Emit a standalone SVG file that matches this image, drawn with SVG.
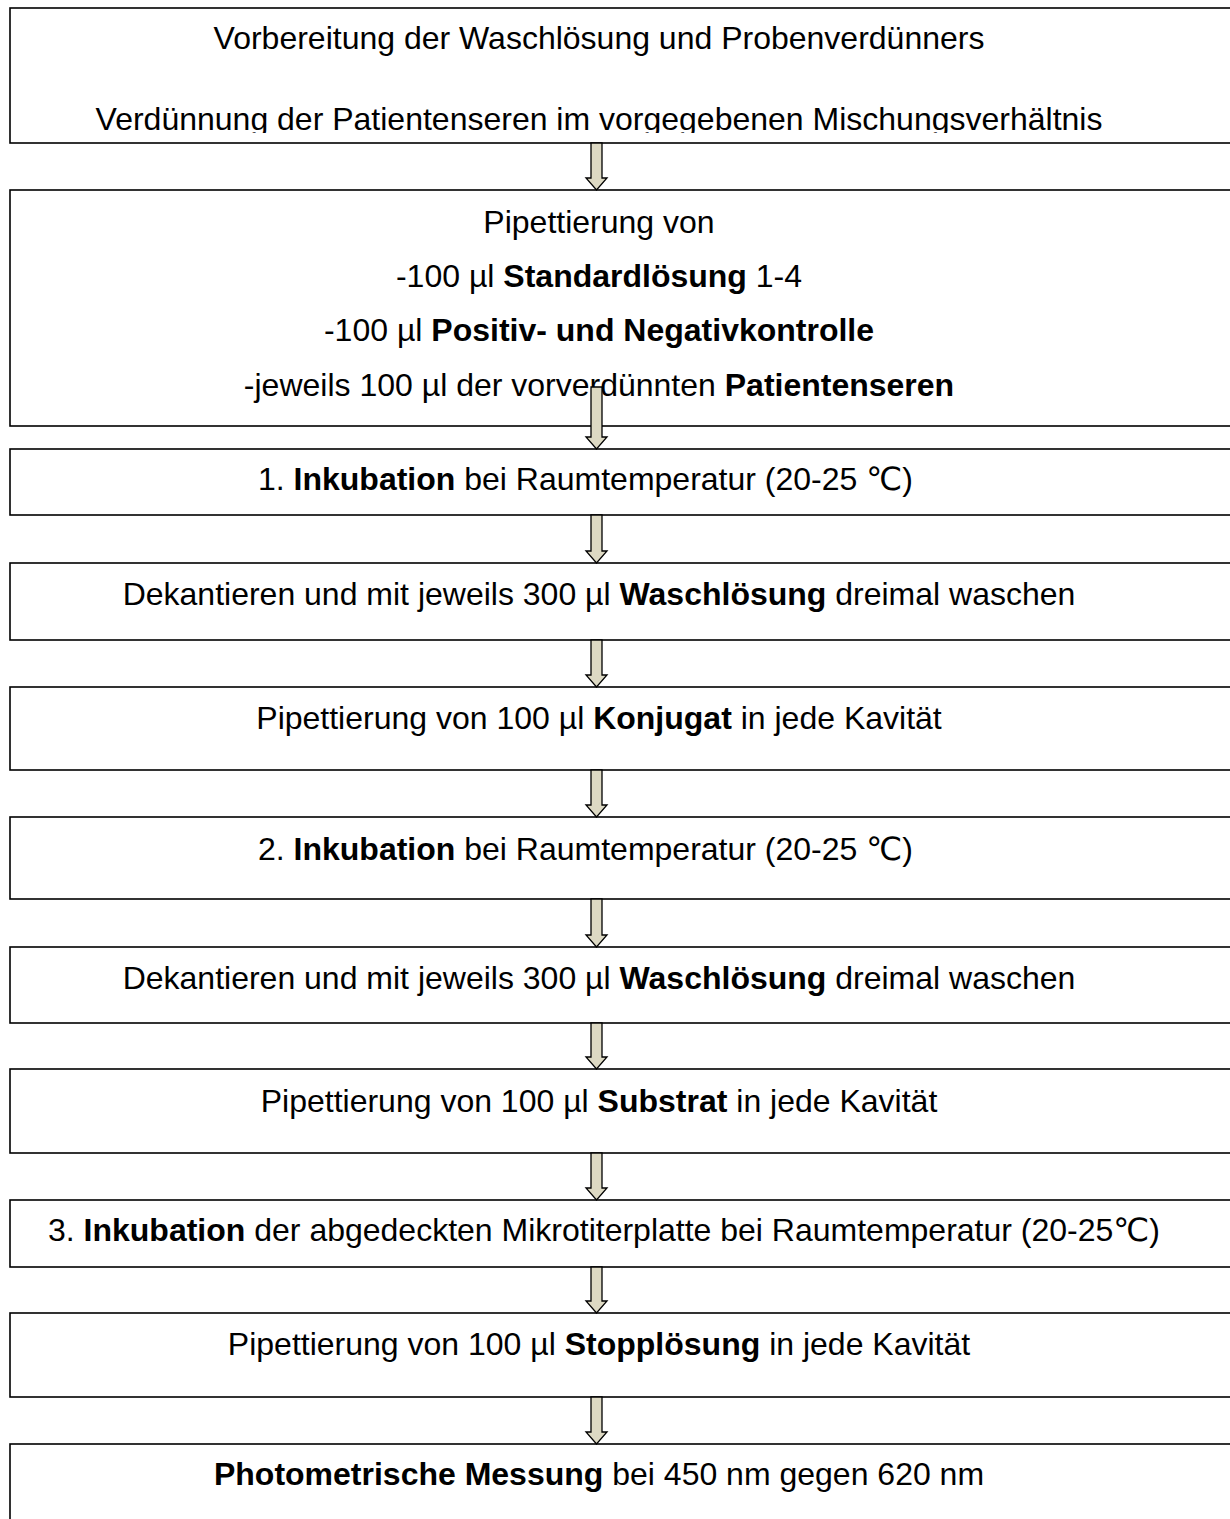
<svg xmlns="http://www.w3.org/2000/svg" width="1230" height="1519" viewBox="0 0 1230 1519">
<defs>
<style>
.box{fill:#fff;stroke:#000;stroke-width:1.6}
.t{font-family:"Liberation Sans",Arial,"DejaVu Sans",sans-serif;font-size:32px;fill:#000}
.c{text-anchor:middle}
.b{font-weight:bold}
.arr{fill:#DDD9C3;stroke:#000;stroke-width:1.3;stroke-linejoin:miter}
</style>
<clipPath id="clip1"><rect x="0" y="0" width="1230" height="133"/></clipPath>
</defs>
<rect x="0" y="0" width="1230" height="1519" fill="#fff"/>
<g id="n1">
<rect class="box" x="10" y="8" width="1240" height="135"/>
<g clip-path="url(#clip1)">
<text class="t c" x="599" y="49">Vorbereitung der Waschlösung und Probenverdünners</text>
<text class="t c" x="599" y="130">Verdünnung der Patientenseren im vorgegebenen Mischungsverhältnis</text>
</g>
</g>
<g id="n2">
<rect class="box" x="10" y="190" width="1240" height="236"/>
<text class="t c" x="599" y="233">Pipettierung von</text>
<text class="t c" x="599" y="287">-100 µl <tspan class="b">Standardlösung</tspan> 1-4</text>
<text class="t c" x="599" y="341">-100 µl <tspan class="b">Positiv- und Negativkontrolle</tspan></text>
<text class="t c" x="599" y="396">-jeweils 100 µl der vorverdünnten <tspan class="b">Patientenseren</tspan></text>
</g>
<g id="n3">
<rect class="box" x="10" y="449" width="1240" height="66"/>
<text class="t" x="258" y="490">1. <tspan class="b">Inkubation</tspan> bei Raumtemperatur (20-25 ℃)</text>
</g>
<g id="n4">
<rect class="box" x="10" y="563" width="1240" height="77"/>
<text class="t c" x="599" y="605">Dekantieren und mit jeweils 300 µl <tspan class="b">Waschlösung</tspan> dreimal waschen</text>
</g>
<g id="n5">
<rect class="box" x="10" y="687" width="1240" height="83"/>
<text class="t c" x="599" y="729">Pipettierung von 100 µl <tspan class="b">Konjugat</tspan> in jede Kavität</text>
</g>
<g id="n6">
<rect class="box" x="10" y="817" width="1240" height="82"/>
<text class="t" x="258" y="860">2. <tspan class="b">Inkubation</tspan> bei Raumtemperatur (20-25 ℃)</text>
</g>
<g id="n7">
<rect class="box" x="10" y="947" width="1240" height="76"/>
<text class="t c" x="599" y="989">Dekantieren und mit jeweils 300 µl <tspan class="b">Waschlösung</tspan> dreimal waschen</text>
</g>
<g id="n8">
<rect class="box" x="10" y="1069" width="1240" height="84"/>
<text class="t c" x="599" y="1112">Pipettierung von 100 µl <tspan class="b">Substrat</tspan> in jede Kavität</text>
</g>
<g id="n9">
<rect class="box" x="10" y="1200" width="1240" height="67"/>
<text class="t" x="48" y="1241">3. <tspan class="b">Inkubation</tspan> der abgedeckten Mikrotiterplatte bei Raumtemperatur (20-25℃)</text>
</g>
<g id="n10">
<rect class="box" x="10" y="1313" width="1240" height="84"/>
<text class="t c" x="599" y="1355">Pipettierung von 100 µl <tspan class="b">Stopplösung</tspan> in jede Kavität</text>
</g>
<g id="n11">
<rect class="box" x="10" y="1444" width="1240" height="120"/>
<text class="t c" x="599" y="1485"><tspan class="b">Photometrische Messung</tspan> bei 450 nm gegen 620 nm</text>
</g>
<g id="connectors">
<path class="arr" d="M591,143 L602,143 L602,178 L607,178 L596.5,190 L586,178 L591,178 Z"/>
<path class="arr" d="M591,387 L602,387 L602,437 L607,437 L596.5,449 L586,437 L591,437 Z"/>
<path class="arr" d="M591,515 L602,515 L602,551 L607,551 L596.5,563 L586,551 L591,551 Z"/>
<path class="arr" d="M591,640 L602,640 L602,675 L607,675 L596.5,687 L586,675 L591,675 Z"/>
<path class="arr" d="M591,770 L602,770 L602,805 L607,805 L596.5,817 L586,805 L591,805 Z"/>
<path class="arr" d="M591,899 L602,899 L602,935 L607,935 L596.5,947 L586,935 L591,935 Z"/>
<path class="arr" d="M591,1023 L602,1023 L602,1057 L607,1057 L596.5,1069 L586,1057 L591,1057 Z"/>
<path class="arr" d="M591,1153 L602,1153 L602,1188 L607,1188 L596.5,1200 L586,1188 L591,1188 Z"/>
<path class="arr" d="M591,1267 L602,1267 L602,1301 L607,1301 L596.5,1313 L586,1301 L591,1301 Z"/>
<path class="arr" d="M591,1397 L602,1397 L602,1432 L607,1432 L596.5,1444 L586,1432 L591,1432 Z"/>
</g>
</svg>
